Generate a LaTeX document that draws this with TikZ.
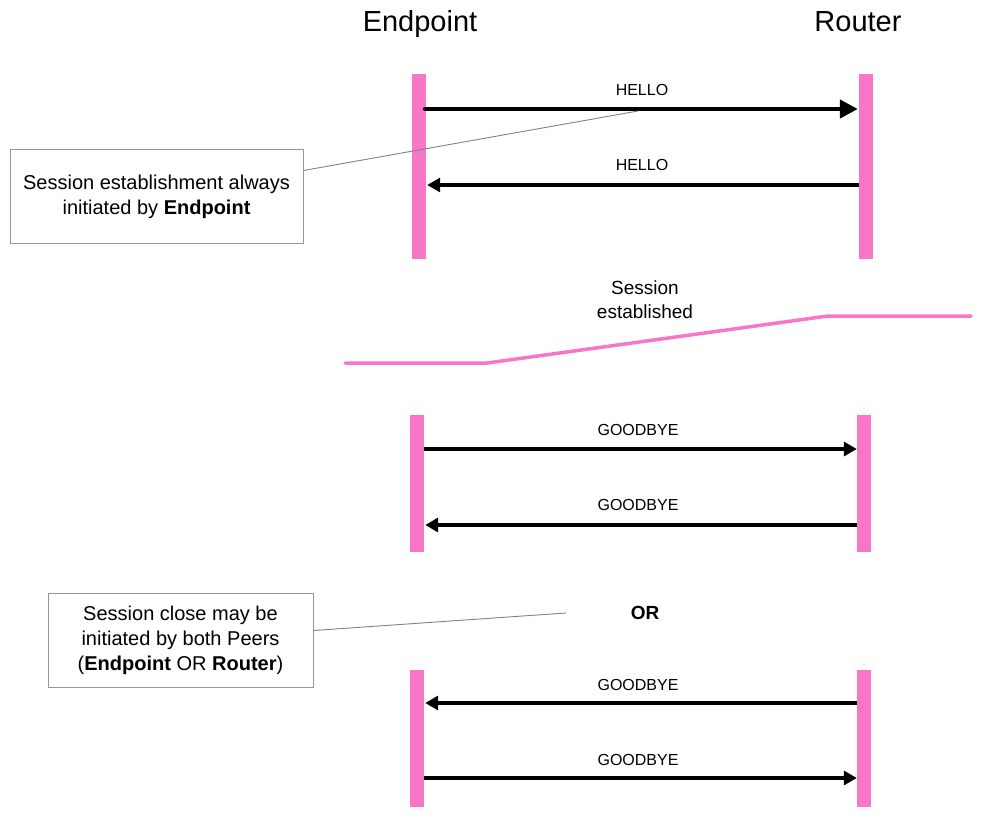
\documentclass[tikz,border=0pt]{standalone}
\usepackage{fontspec}
\setmainfont{Liberation Sans}
\usetikzlibrary{arrows.meta,calc}
\definecolor{lifepink}{RGB}{248,118,200}
\definecolor{calloutline}{RGB}{130,130,130}
\definecolor{boxline}{RGB}{150,150,150}
\tikzset{
  lifebar/.style={rectangle,fill=lifepink,draw=none,minimum width=14pt,inner sep=0pt},
  msgthick/.style={line width=4.5pt,line cap=round,-{Triangle[length=18pt,width=18pt]}},
  msgthin/.style={line width=3.2pt,-{Triangle[length=13pt,width=14pt]}},
  msglabel/.style={inner sep=0pt,font=\fontsize{16}{19}\selectfont},
  titlelabel/.style={inner sep=0pt,anchor=base,font=\fontsize{29}{34}\selectfont},
  calloutbox/.style={rectangle,draw=boxline,line width=1pt,inner sep=0pt,align=center,font=\fontsize{20}{25}\selectfont},
  calloutlink/.style={draw=calloutline,line width=0.9pt},
  sessline/.style={draw=lifepink,line width=3.5pt,line cap=round,line join=round}
}
\begin{document}
\begin{tikzpicture}[x=1pt,y=-1pt]
\useasboundingbox (0,0) rectangle (982,818);
\fill[white] (0,0) rectangle (982,818);

% titles
\node[titlelabel] (tend) at (420,32) {Endpoint};
\node[titlelabel] (trou) at (858,32) {Router};

% lifeline bars
\node[lifebar,minimum height=185pt] (e1) at (419,166.5) {};
\node[lifebar,minimum height=185pt] (r1) at (866,166.5) {};
\node[lifebar,minimum height=137pt] (e2) at (417,483.5) {};
\node[lifebar,minimum height=137pt] (r2) at (864,483.5) {};
\node[lifebar,minimum height=137pt] (e3) at (417,738.5) {};
\node[lifebar,minimum height=137pt] (r3) at (864,738.5) {};

% message rows
\coordinate (y1) at (0,109);
\coordinate (y2) at (0,185);
\coordinate (y3) at (0,449);
\coordinate (y4) at (0,525);
\coordinate (y5) at (0,703);
\coordinate (y6) at (0,778);

\draw[msgthick] ($(e1.east |- y1)+(-1,0)$) -- ($(r1.west |- y1)+(-1,0)$);
\draw[msgthin] (r1.west |- y2) -- ($(e1.east |- y2)+(1,0)$);
\draw[msgthin] (e2.east |- y3) -- (r2.west |- y3);
\draw[msgthin] (r2.west |- y4) -- ($(e2.east |- y4)+(1,0)$);
\draw[msgthin] (r3.west |- y5) -- ($(e3.east |- y5)+(1,0)$);
\draw[msgthin] (e3.east |- y6) -- (r3.west |- y6);

\node[msglabel] (l1) at (642,90) {HELLO};
\node[msglabel] (l2) at (642,165) {HELLO};
\node[msglabel] (l3) at (638,430) {GOODBYE};
\node[msglabel] (l4) at (638,505) {GOODBYE};
\node[msglabel] (l5) at (638,685) {GOODBYE};
\node[msglabel] (l6) at (638,760) {GOODBYE};

% session established
\node[inner sep=0pt,align=center,font=\fontsize{19}{23.5}\selectfont] (sess) at (645,299.5) {Session\\established};
\coordinate (s0) at (345,363);
\coordinate (s1) at (487,363);
\coordinate (s2) at (828,316);
\coordinate (s3) at (971,316);
\draw[sessline] (s0) -- (s1) -- (s2) -- (s3);

% OR
\node[inner sep=0pt,font=\bfseries\fontsize{19}{23}\selectfont] (orl) at (645,613) {OR};

% callout 1
\node[calloutbox,minimum width=293pt,minimum height=94pt] (c1) at (156.5,197) {Session establishment always\\initiated by \textbf{Endpoint}};
\coordinate (c1end) at (638,111);
\draw[calloutlink] ($(c1.north east)+(0,21)$) -- (c1end);

% callout 2
\node[calloutbox,minimum width=265pt,minimum height=94pt] (c2) at (180.5,640) {Session close may be\\initiated by both Peers\\(\textbf{Endpoint} OR \textbf{Router})};
\coordinate (c2end) at (566,613);
\draw[calloutlink] ($(c2.north east)+(0,38)$) -- (c2end);
\end{tikzpicture}
\end{document}
